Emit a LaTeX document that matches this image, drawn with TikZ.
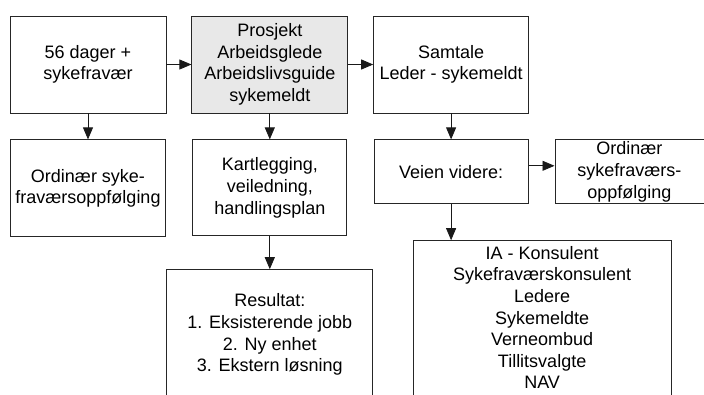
\documentclass[tikz,border=0pt]{standalone}
\usepackage{fontspec}
\setmainfont{Liberation Sans}
\usepackage{tikz}
\usetikzlibrary{positioning,arrows.meta}

\begin{document}
\begin{tikzpicture}[x=1pt, y=-1pt,
    every node/.style={draw=black!85, line width=0.8pt, align=center,
        inner sep=2pt, font=\fontsize{18}{21.6}\selectfont},
    box/.style={minimum width=156pt, minimum height=97pt},
    link/.style={-{Triangle[length=12pt,width=10pt]}, line width=0.8pt, draw=black!90}]

    \useasboundingbox (0,0) rectangle (704,394);
    \clip (0,0) rectangle (704,394);

    % top row
    \node[box] (dager) at (88,64.5) {56 dager +\\sykefravær};
    \node[box, fill=black!9, right=25pt of dager] (prosjekt)
        {Prosjekt\\Arbeidsglede\\Arbeidslivsguide\\sykemeldt};
    \node[box, minimum width=155pt, right=25pt of prosjekt] (samtale)
        {Samtale\\Leder - sykemeldt};

    % second row
    \node[box, minimum width=155pt, below=26pt of dager] (ordinaer)
        {Ordinær syke-\\fraværsoppfølging};
    \node[box, minimum width=154pt, minimum height=96pt,
        below=26pt of prosjekt] (kartlegging)
        {Kartlegging,\\veiledning,\\handlingsplan};
    \node[minimum width=154pt, minimum height=64pt,
        below=26pt of samtale] (veien) {\raisebox{-6pt}{Veien videre:}};
    \node[minimum width=149pt, minimum height=64pt,
        right=26pt of veien] (oppfolging)
        {Ordinær\\sykefraværs-\\oppfølging};

    % bottom row
    \node[minimum width=206pt, minimum height=130pt,
        below=33pt of kartlegging] (resultat)
        {Resultat:\\1. Eksisterende jobb\\2. Ny enhet\\3. Ekstern løsning};
    \node[minimum width=258pt, minimum height=166pt, text depth=12pt,
        below=36pt of veien, xshift=91pt] (aktorer)
        {IA - Konsulent\\Sykefraværskonsulent\\Ledere\\Sykemeldte\\Verneombud\\Tillitsvalgte\\NAV};

    \draw[link] (dager) -- (prosjekt);
    \draw[link] (prosjekt) -- (samtale);
    \draw[link] (dager) -- (ordinaer);
    \draw[link] (prosjekt) -- (kartlegging);
    \draw[link] (samtale) -- (veien);
    \draw[link] ([yshift=6pt]veien.east) -- ([yshift=6pt]oppfolging.west);
    \draw[link] (kartlegging) -- (resultat);
    \draw[link] (veien) -- (veien |- aktorer.north);
\end{tikzpicture}
\end{document}
